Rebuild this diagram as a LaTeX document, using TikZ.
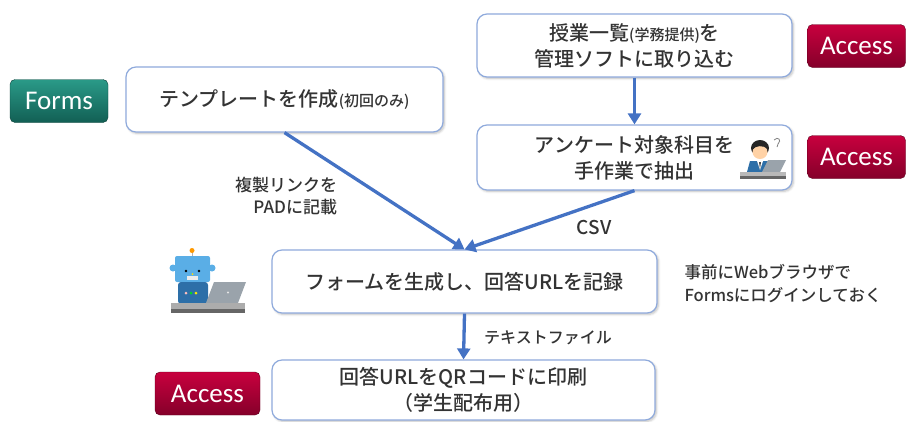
\documentclass[tikz,border=0pt]{standalone}
\usepackage{fontspec}
\setmainfont{Noto Sans CJK JP}[UprightFont=* Medium]
\newfontfamily\badgefont{Carlito}
\usetikzlibrary{arrows.meta,shadows.blur}
\definecolor{boxline}{HTML}{8FAADC}
\definecolor{flow}{HTML}{4472C4}
\definecolor{ink}{HTML}{333333}
\definecolor{accA}{HTML}{C8003E}
\definecolor{accB}{HTML}{85002A}
\definecolor{frmA}{HTML}{2A9A88}
\definecolor{frmB}{HTML}{125F54}
\definecolor{robo}{HTML}{5AAEE6}
\definecolor{robodark}{HTML}{2D6FA8}
\definecolor{pcgray}{HTML}{9AA3AB}
\tikzset{
  stepbox/.style={draw=boxline, line width=1.2pt, rounded corners=10pt, fill=white,
    text=ink, align=center, font=\fontsize{20}{26}\selectfont,
    blur shadow={shadow xshift=1.5pt, shadow yshift=-1.5pt, shadow blur steps=5, shadow opacity=25}},
  badge/.style={rounded corners=5pt, text=white, font=\badgefont\fontsize{27}{30}\selectfont,
    minimum width=98pt, minimum height=43pt, inner sep=0pt},
  accessbadge/.style={badge, top color=accA, bottom color=accB, draw=accB!70!black},
  formsbadge/.style={badge, top color=frmA, bottom color=frmB, draw=frmB!70!black},
  flowarrow/.style={draw=flow, line width=3.3pt, -{Triangle[width=13pt,length=11pt]}},
  note/.style={text=ink, font=\fontsize{17}{22}\selectfont}
}
\newcommand{\smalltext}[1]{{\fontsize{15}{16}\selectfont #1}}
\begin{document}
\begin{tikzpicture}[x=1pt,y=-1pt]
\useasboundingbox (0,0) rectangle (912,421);

% process steps
\node[stepbox, minimum width=315pt, minimum height=63pt] (import) at (634.5,45.5)
  {授業一覧\smalltext{(学務提供)}を\\管理ソフトに取り込む};
\node[stepbox, minimum width=315pt, minimum height=65pt] (extract) at (634.5,157.5)
  {アンケート対象科目を\\手作業で抽出};
\node[stepbox, minimum width=317pt, minimum height=65pt] (template) at (284.5,99.5)
  {テンプレートを作成\smalltext{(初回のみ)}};
\node[stepbox, minimum width=385pt, minimum height=63pt] (generate) at (464.5,281.5)
  {フォームを生成し、回答URLを記録};
\node[stepbox, minimum width=383pt, minimum height=60pt] (qrprint) at (463.5,390)
  {回答URLをQRコードに印刷\\（学生配布用）};

% tool badges
\node[accessbadge] (acc1) at (856.5,46) {Access};
\node[accessbadge] (acc2) at (856.5,157) {Access};
\node[formsbadge] (forms) at (59,101) {Forms};
\node[accessbadge, minimum width=105pt] (acc3) at (207.5,393.5) {Access};

% flow
\draw[flowarrow] (import.south) -- (extract.north);
\draw[flowarrow] (template.south) -- (generate.north);
\draw[flowarrow] (extract.south) -- (generate.north);
\draw[flowarrow] (generate.south) -- (qrprint.north);

% arrow labels and remarks
\node[note, align=right] (lblpad) at (286,196) {複製リンクを\\PADに記載};
\node[note, font=\fontsize{19}{22}\selectfont] (lblcsv) at (594,228) {CSV};
\node[note, font=\fontsize{16}{20}\selectfont] (lbltxt) at (548,338) {テキストファイル};
\node[note, font=\fontsize{16.5}{23}\selectfont, align=left, anchor=west] (remark) at (681,284)
  {事前にWebブラウザで\\Formsにログインしておく};

% robot at a laptop
\begin{scope}
  \draw[gray!60, line width=1pt] (192,252) -- (192,256);
  \fill[orange!80!yellow] (192,250.5) circle (2.5);
  \fill[robo] (173,268) circle (3.5);
  \fill[robo] (212,268) circle (3.5);
  \fill[robo, rounded corners=2pt] (175,256) rectangle (210,282);
  \fill[black] (186,271) circle (1.4);
  \fill[black] (199,271) circle (1.4);
  \fill[yellow!80!orange] (192.5,274) circle (1);
  \fill[white!85!gray] (187,276) rectangle (198,280);
  \fill[robodark, rounded corners=3pt] (178,282) rectangle (208,304);
  \fill[pink] (186,293) circle (1.5);
  \fill[green!70!teal] (191,293) circle (1.5);
  \fill[yellow!90!orange] (196,293) circle (1.5);
  \fill[pcgray] (206,303) -- (214,282) -- (246,282) -- (238,303) -- cycle;
  \fill[white!80!gray] (228,292.5) circle (1.2);
  \fill[gray!65] (171,303) rectangle (245,309);
  \fill[gray!80!black] (171,309) rectangle (245,313);
\end{scope}

% person at a laptop
\begin{scope}
  \fill[black!85] (760,148) ellipse (9 and 8);
  \fill[orange!35!white] (760,152) ellipse (7.5 and 7);
  \fill[black!85] (752,146) .. controls (757,141) and (765,141) .. (768,147) -- (768,149) .. controls (763,145) and (756,145) .. (752,150) -- cycle;
  \fill[robodark] (747,172) -- (750,161) -- (770,161) -- (773,172) -- cycle;
  \fill[white] (757,161) -- (763,161) -- (760,170) -- cycle;
  \fill[black!70] (759,162) -- (761,162) -- (760,169) -- cycle;
  \fill[pcgray] (762,172) -- (768,160) -- (786,160) -- (780,172) -- cycle;
  \fill[gray!55] (740,172) rectangle (786,176);
  \fill[gray!80!black] (740,176) rectangle (786,179);
  \draw[gray, line width=0.8pt] (774,140) .. controls (778,136) and (782,140) .. (778,144) -- (777,147);
\end{scope}
\end{tikzpicture}
\end{document}
